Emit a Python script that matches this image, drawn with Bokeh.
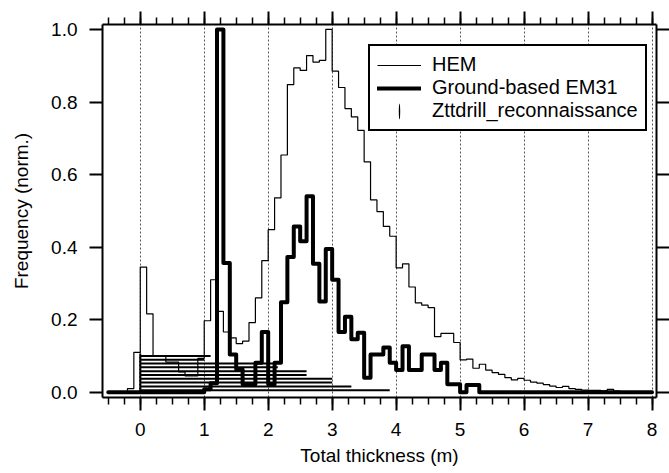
import numpy as np
from bokeh.plotting import figure
from bokeh.models import (Range1d, LinearAxis, FixedTicker, Legend, LegendItem,
                          ColumnDataSource, Grid, NumeralTickFormatter,
                          CustomJSTickFormatter)
from bokeh.embed import file_html
from bokeh.resources import INLINE

# ---------------- data ----------------
# HEM histogram: bins of 0.1 m starting at -0.3 m
hem_start = -0.3
hem_bin = 0.1
hem_values = [
    0.0, 0.01, 0.11, 0.345, 0.216, 0.10, 0.10, 0.083, 0.083, 0.056,
    0.045, 0.045, 0.093, 0.197, 0.31, 0.223, 0.166, 0.15, 0.134, 0.141,
    0.192, 0.26, 0.363, 0.448, 0.536, 0.654, 0.848, 0.894, 0.887, 0.928,
    0.91, 0.915, 1.0, 0.885, 0.84, 0.782, 0.759, 0.722, 0.635, 0.53,
    0.498, 0.457, 0.43, 0.343, 0.354, 0.29, 0.246, 0.24, 0.233, 0.153,
    0.162, 0.162, 0.137, 0.089, 0.091, 0.066, 0.077, 0.061, 0.054, 0.049,
    0.040, 0.034, 0.038, 0.033, 0.028, 0.025, 0.021, 0.017, 0.013, 0.016,
    0.010, 0.008, 0.006, 0.005, 0.005, 0.004, 0.008, 0.003, 0.002, 0.002,
    0.001, 0.001, 0.001,
]

# Ground-based EM31 histogram: bins of 0.1 m starting at -0.5 m
em31_start = -0.5
em31_bin = 0.1
em31_values = [
    0, 0, 0, 0, 0, 0, 0, 0, 0, 0, 0, 0, 0, 0, 0,
    0.008, 0.025, 1.0, 0.356, 0.104, 0.063, 0.022, 0.022, 0.081, 0.166,
    0.022, 0.081, 0.248, 0.373, 0.457, 0.416, 0.54, 0.354, 0.25, 0.395,
    0.31, 0.166, 0.208, 0.146, 0.164, 0.04, 0.104, 0.104, 0.123, 0.081,
    0.061, 0.127, 0.061, 0.061, 0.104, 0.104, 0.061, 0.081, 0.022, 0.022,
    0.0, 0.02, 0.02, 0, 0, 0, 0, 0, 0, 0, 0, 0, 0, 0, 0, 0, 0, 0, 0, 0,
    0, 0, 0, 0, 0, 0, 0, 0, 0, 0,
]

# Drill reconnaissance: thickness values drawn as lines from 0 at stacked levels
drill_level = [0.100, 0.0895, 0.079, 0.0685, 0.058, 0.0475, 0.037, 0.0265, 0.016, 0.0055]
drill_thickness = [1.10, 1.00, 2.10, 2.15, 2.60, 2.60, 3.00, 3.00, 3.30, 3.90]

x_ticks = [0, 1, 2, 3, 4, 5, 6, 7, 8]
x_minor_ticks = [round(-0.5 + 0.25 * i, 2) for i in range(35)]
y_ticks = [0.0, 0.2, 0.4, 0.6, 0.8, 1.0]

FONT = "Liberation Sans"

# ---------------- layout constants ----------------
W, H = 669, 473
B_LEFT, B_RIGHT, B_TOP, B_BOTTOM = 102, 12, 24, 76
X0, X1 = -0.59, 8.07
Y0, Y1 = -0.0146, 1.0137


def step_xy(start, width, vals):
    n = len(vals)
    edges = start + width * np.arange(n + 1)
    xs = np.repeat(edges, 2)[1:-1]
    ys = np.repeat(np.asarray(vals, dtype=float), 2)
    return xs, ys


p = figure(width=W, height=H,
           x_range=Range1d(X0, X1), y_range=Range1d(Y0, Y1),
           x_axis_type=None, y_axis_type=None,
           output_backend="svg", toolbar_location=None,
           min_border_left=B_LEFT, min_border_right=B_RIGHT,
           min_border_top=B_TOP, min_border_bottom=B_BOTTOM)
p.outline_line_color = None
p.background_fill_color = "white"
p.border_fill_color = "white"

# vertical dotted grid
grid = Grid(dimension=0, ticker=FixedTicker(ticks=x_ticks),
            grid_line_color="#555555", grid_line_dash="2 2", grid_line_width=1)
p.add_layout(grid)

blank = CustomJSTickFormatter(code="return '';")


def style_axis(ax, labels=True):
    ax.axis_line_width = 2
    ax.axis_line_color = "black"
    ax.major_tick_line_width = 2
    ax.minor_tick_line_width = 1.5
    ax.major_tick_out = 13
    ax.major_tick_in = 0
    ax.minor_tick_out = 7
    ax.minor_tick_in = 0
    ax.major_label_text_font = FONT
    ax.major_label_text_font_size = "19px"
    ax.major_label_text_color = "black"
    ax.axis_label_text_font = FONT
    ax.axis_label_text_font_size = "19px"
    ax.axis_label_text_font_style = "normal"
    ax.axis_label_text_color = "black"
    if not labels:
        ax.formatter = blank
        ax.major_label_standoff = 0


bottom = LinearAxis(ticker=FixedTicker(ticks=x_ticks, minor_ticks=x_minor_ticks),
                    axis_label="Total thickness (m)")
style_axis(bottom)
bottom.major_label_standoff = 12
bottom.axis_label_standoff = 6
p.add_layout(bottom, "below")

top = LinearAxis(ticker=FixedTicker(ticks=x_ticks, minor_ticks=x_minor_ticks))
style_axis(top, labels=False)
p.add_layout(top, "above")

left = LinearAxis(ticker=FixedTicker(ticks=y_ticks, minor_ticks=[]),
                  formatter=NumeralTickFormatter(format="0.0"),
                  axis_label="Frequency (norm.)")
style_axis(left)
left.major_label_standoff = 12
left.axis_label_standoff = 16
p.add_layout(left, "left")

right = LinearAxis(ticker=FixedTicker(ticks=y_ticks, minor_ticks=[]))
style_axis(right, labels=False)
p.add_layout(right, "right")

# drill lines
drill_src = ColumnDataSource(dict(x0=[0.0] * len(drill_level), y=drill_level,
                                  x1=drill_thickness))
p.segment(x0="x0", y0="y", x1="x1", y1="y", source=drill_src,
          line_color="black", line_width=2)
p.scatter(x="x0", y="y", source=drill_src, marker="dash",
          angle=np.pi / 2, size=5, line_color="black", line_width=2)

# HEM histogram
hx, hy = step_xy(hem_start, hem_bin, hem_values)
hem_r = p.line(hx, hy, line_color="black", line_width=1.2)

# EM31 histogram
ex, ey = step_xy(em31_start, em31_bin, em31_values)
em_r = p.line(ex, ey, line_color="black", line_width=4,
              line_join="round", line_cap="round")

# legend proxy for the drill entry: a very thin, tall ellipse placed outside
# the visible range; the legend keeps its aspect ratio and shows a '|'
drill_leg_r = p.ellipse(x=[X0 - 1.0], y=[0.5], width=0.03, height=0.06,
                        fill_color="black", line_color=None)

legend = Legend(items=[
    LegendItem(label="HEM", renderers=[hem_r]),
    LegendItem(label="Ground-based EM31", renderers=[em_r]),
    LegendItem(label="Zttdrill_reconnaissance", renderers=[drill_leg_r]),
], location=(266, 266))
legend.label_text_font = FONT
legend.label_text_font_size = "20px"
legend.label_text_color = "black"
legend.glyph_width = 44
legend.glyph_height = 20
legend.label_height = 20
legend.label_standoff = 11
legend.spacing = 0
legend.padding = 7
legend.margin = 0
legend.border_line_color = "black"
legend.border_line_alpha = 1.0
legend.border_line_width = 2
legend.background_fill_color = "white"
legend.background_fill_alpha = 1.0
p.add_layout(legend, "center")

open("out.html", "w").write(file_html(p, INLINE))
